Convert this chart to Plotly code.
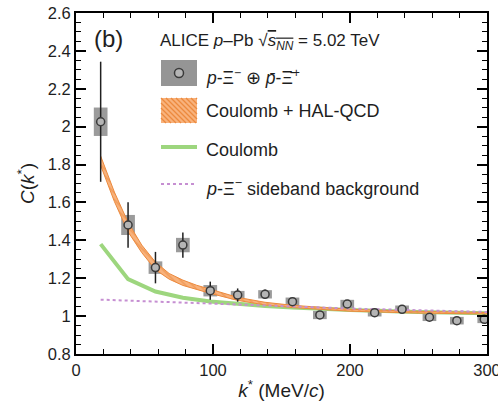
import plotly.graph_objects as go

# ---------------- data ----------------
k_data = [18, 38, 58, 78, 98, 118, 138, 158, 178, 198, 218, 238, 258, 278, 298]
c_data = [2.026, 1.481, 1.256, 1.375, 1.134, 1.111, 1.115, 1.076, 1.006, 1.064,
          1.018, 1.036, 0.994, 0.976, 0.983]
stat_err = [0.317, 0.12, 0.083, 0.067, 0.048, 0.035, 0.025, 0.02, 0.018, 0.018,
            0.015, 0.015, 0.012, 0.012, 0.012]
syst_err = [0.075, 0.053, 0.033, 0.038, 0.03, 0.022, 0.022, 0.022, 0.022, 0.022,
            0.02, 0.02, 0.02, 0.02, 0.02]
box_halfwidth = 5

k_band = [18, 28, 38, 48, 58, 68, 78, 88, 98, 118, 138, 158, 178, 200, 250, 300]
band_low = [1.795, 1.605, 1.445, 1.335, 1.245, 1.195, 1.162, 1.139, 1.12, 1.083,
            1.059, 1.045, 1.035, 1.026, 1.016, 1.011]
band_high = [1.845, 1.655, 1.495, 1.375, 1.285, 1.225, 1.19, 1.163, 1.142, 1.099,
             1.073, 1.057, 1.047, 1.036, 1.025, 1.019]

k_coul = [18, 38, 58, 78, 98, 118, 138, 158, 178, 200, 250, 300]
c_coul = [1.38, 1.195, 1.13, 1.097, 1.077, 1.063, 1.053, 1.045, 1.038, 1.032,
          1.022, 1.015]

k_side = [18, 100, 200, 300]
c_side = [1.087, 1.065, 1.04, 1.022]

x_ticks = [0, 100, 200, 300]
y_ticks = [0.8, 1.0, 1.2, 1.4, 1.6, 1.8, 2.0, 2.2, 2.4, 2.6]
y_ticklabels = ["0.8", "1", "1.2", "1.4", "1.6", "1.8", "2", "2.2", "2.4", "2.6"]

FONT = "Liberation Sans, Arial, sans-serif"
TXT = "#1e1e1e"
ORANGE_BG = "#f8b27c"
ORANGE_FG = "#ec8a3e"
GREEN = "#9dd67e"
PURPLE = "#c68fd2"
GRAY_BOX = "#8a8a8a"

fig = go.Figure()

# Coulomb (green)
fig.add_trace(go.Scatter(x=k_coul, y=c_coul, mode="lines",
                         line=dict(color=GREEN, width=4), showlegend=False,
                         hoverinfo="skip"))

# Coulomb + HAL-QCD band
fig.add_trace(go.Scatter(x=k_band + k_band[::-1], y=band_high + band_low[::-1],
                         mode="lines", line=dict(color=ORANGE_FG, width=1),
                         fill="toself", fillcolor=ORANGE_BG,
                         fillpattern=dict(shape="\\", fgcolor=ORANGE_FG,
                                          bgcolor=ORANGE_BG, size=5, solidity=0.35),
                         showlegend=False, hoverinfo="skip"))

# sideband background
fig.add_trace(go.Scatter(x=k_side, y=c_side, mode="lines",
                         line=dict(color=PURPLE, width=2, dash="dot"),
                         showlegend=False, hoverinfo="skip"))

# systematic boxes
fig.add_trace(go.Bar(x=k_data, y=[2 * s for s in syst_err],
                     base=[c - s for c, s in zip(c_data, syst_err)],
                     width=2 * box_halfwidth, marker=dict(color=GRAY_BOX, line=dict(width=0)),
                     opacity=0.85, showlegend=False, hoverinfo="skip"))

# data points with stat errors
fig.add_trace(go.Scatter(x=k_data, y=c_data, mode="markers",
                         marker=dict(symbol="circle", size=8, color="#b5b5b5",
                                     line=dict(color="#3a3a3a", width=1.5)),
                         error_y=dict(type="data", array=stat_err, color="#202020",
                                      thickness=1.5, width=0),
                         showlegend=False))

# ---------------- legend (drawn manually) ----------------
def px2paper(x, y):
    return (x - 76) / 411, (354 - y) / 341

shapes = []
x0, y0 = px2paper(161, 86)
x1, y1 = px2paper(197, 60)
shapes.append(dict(type="rect", xref="paper", yref="paper", x0=x0, x1=x1, y0=y0, y1=y1,
                   fillcolor=GRAY_BOX, line=dict(width=0), opacity=0.9))
cx0, cy0 = px2paper(174.5, 77.5)
cx1, cy1 = px2paper(183.5, 68.5)
shapes.append(dict(type="circle", xref="paper", yref="paper", x0=cx0, x1=cx1, y0=cy0, y1=cy1,
                   fillcolor="#b5b5b5", line=dict(color="#3a3a3a", width=1.5)))
x0, y0 = px2paper(161, 123)
x1, y1 = px2paper(197, 98)
shapes.append(dict(type="rect", xref="paper", yref="paper", x0=x0, x1=x1, y0=y0, y1=y1,
                   fillcolor=ORANGE_BG, line=dict(width=0)))
for i in range(-6, 8):
    a = 161 + i * 5
    sx0, sy0 = px2paper(max(a, 161), 98 + max(0, 161 - a))
    ex = min(a + 25, 197)
    sx1, sy1 = px2paper(ex, 98 + (ex - a))
    if ex > max(a, 161):
        shapes.append(dict(type="line", xref="paper", yref="paper", x0=sx0, y0=sy0,
                           x1=sx1, y1=sy1, line=dict(color=ORANGE_FG, width=1.2)))
gx0, gy = px2paper(161, 147)
gx1, _ = px2paper(197, 147)
shapes.append(dict(type="line", xref="paper", yref="paper", x0=gx0, x1=gx1, y0=gy, y1=gy,
                   line=dict(color=GREEN, width=4)))
px0, py = px2paper(161, 184)
px1, _ = px2paper(197, 184)
shapes.append(dict(type="line", xref="paper", yref="paper", x0=px0, x1=px1, y0=py, y1=py,
                   line=dict(color=PURPLE, width=2, dash="dot")))

annotations = []
def add_text(text, x, y, size=17):
    ax, ay = px2paper(x, y)
    annotations.append(dict(text=text, xref="paper", yref="paper", x=ax, y=ay,
                            xanchor="left", yanchor="middle", showarrow=False,
                            font=dict(family=FONT, size=size, color=TXT)))

add_text("ALICE <i>p</i>–Pb √<span style='text-decoration:overline'><i>s</i><sub><i>NN</i></sub></span> = 5.02 TeV", 158, 42, 17)
add_text("<i>p</i>-Ξ<sup>−</sup> ⊕ <i>p̄</i>-Ξ̄<sup>+</sup>", 204, 77, 17.5)
add_text("Coulomb + HAL-QCD", 204, 111, 18)
add_text("Coulomb", 204, 150, 18)
add_text("<i>p</i>-Ξ<sup>−</sup> sideband background", 204, 187, 18)
add_text("(b)", 92, 38, 24)

fig.update_layout(
    width=498, height=405,
    margin=dict(l=76, r=11, t=13, b=51, autoexpand=False),
    paper_bgcolor="white", plot_bgcolor="white",
    barmode="overlay",
    font=dict(family=FONT, color=TXT, size=16),
    shapes=shapes, annotations=annotations,
    showlegend=False,
)
fig.update_xaxes(range=[0, 300], tickvals=x_ticks, ticks="inside", ticklen=10, tickwidth=1.5,
                 tickcolor="black", showline=True, linecolor="black", linewidth=2,
                 mirror="ticks", showgrid=False, zeroline=False,
                 ticklabeloverflow="allow", automargin=False,
                 tickfont=dict(size=16.5, family=FONT, color=TXT),
                 minor=dict(dtick=20, ticks="inside", ticklen=5, tickwidth=1.2,
                            tickcolor="black", showgrid=False),
                 title=dict(text="<i>k</i><sup>*</sup> (MeV/<i>c</i>)",
                            font=dict(size=19, family=FONT, color=TXT), standoff=6))
fig.update_yaxes(range=[0.8, 2.6], tickvals=y_ticks, ticktext=y_ticklabels,
                 ticks="inside", ticklen=10, tickwidth=1.5, automargin=False,
                 tickcolor="black", showline=True, linecolor="black", linewidth=2,
                 mirror="ticks", showgrid=False, zeroline=False,
                 tickfont=dict(size=16.5, family=FONT, color=TXT),
                 minor=dict(dtick=0.05, ticks="inside", ticklen=5, tickwidth=1.2,
                            tickcolor="black", showgrid=False),
                 title=dict(text="<i>C</i>(<i>k</i><sup>*</sup>)",
                            font=dict(size=19, family=FONT, color=TXT), standoff=8))

fig.write_html("out.html")
